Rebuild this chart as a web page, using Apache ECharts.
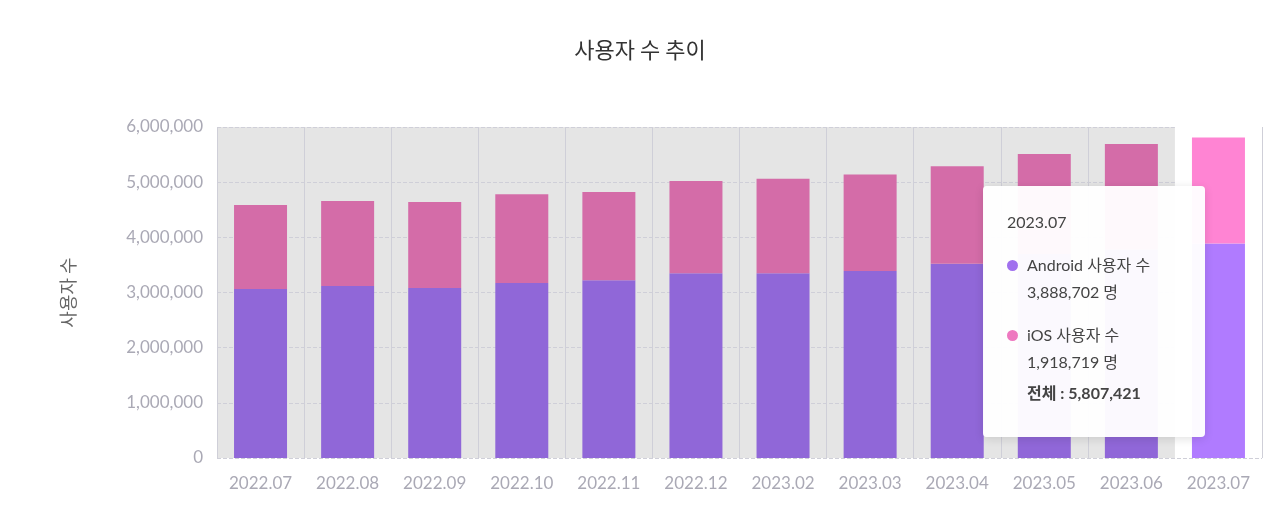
<!DOCTYPE html>
<html><head><meta charset="utf-8">
<script src="https://cdn.jsdelivr.net/npm/echarts@6/dist/echarts.min.js"></script>
<style>html,body{margin:0;padding:0;background:#fff}#c{width:1280px;height:506px}</style>
</head><body><div id="c"></div>
<script>
const categories = ['2022.07','2022.08','2022.09','2022.10','2022.11','2022.12','2023.02','2023.03','2023.04','2023.05','2023.06','2023.07'];
const android = [3063000,3120000,3080000,3170000,3220000,3350000,3350000,3390000,3520000,3700000,3780000,3888702];
const ios = [1523000,1540000,1560000,1610000,1600000,1670000,1710000,1750000,1770000,1810000,1910000,1918719];
const yTicks = [0,1000000,2000000,3000000,4000000,5000000,6000000];
const hi = categories.length - 1;
const fmt = v => v.toLocaleString('en-US');
const chart = echarts.init(document.getElementById('c'));
chart.setOption({
  textStyle:{fontFamily:'Lato, "Noto Sans CJK KR", sans-serif'},
  title:{text:'사용자 수 추이',left:'center',top:34,textStyle:{fontSize:22,fontWeight:'normal',color:'#333',fontFamily:'"Noto Sans CJK KR", sans-serif'}},
  grid:{left:217,right:18,top:127,bottom:48,show:true,backgroundColor:'#e5e5e5',borderWidth:0},
  tooltip:{trigger:'axis',triggerOn:'none',alwaysShowContent:true,axisPointer:{type:'none'},
    position:function(){return [983,186];},
    backgroundColor:'rgba(255,255,255,0.96)',borderWidth:0,padding:[22,24],
    extraCssText:'box-shadow:0 2px 10px rgba(0,0,0,0.12);border-radius:4px;width:174px;height:207px;',
    formatter:function(p){
      const i=p[0].dataIndex;
      const dot=c=>'<span style="display:inline-block;width:11px;height:11px;border-radius:50%;background:'+c+';margin-right:9px"></span>';
      return '<div style="font-family:Lato,\'Noto Sans CJK KR\';color:#444;font-size:16px;line-height:27px">'+
        '<div style="margin-bottom:16px">'+categories[i]+'</div>'+
        '<div>'+dot('#a070ee')+'Android 사용자 수</div><div style="padding-left:20px;margin-bottom:16px">'+fmt(android[i])+' 명</div>'+
        '<div>'+dot('#ee78c0')+'iOS 사용자 수</div><div style="padding-left:20px">'+fmt(ios[i])+' 명</div>'+
        '<div style="padding-left:20px;margin-top:4px;font-weight:bold">전체 : '+fmt(android[i]+ios[i])+'</div></div>';
    }},
  xAxis:{type:'category',data:categories,
    axisLine:{show:false},axisTick:{show:false},
    axisLabel:{color:'#aaa9b5',fontSize:17,margin:17},
    splitLine:{show:true,lineStyle:{color:'#cfcfd8',width:1}}},
  yAxis:{type:'value',min:0,max:6000000,interval:1000000,
    name:'사용자 수',nameLocation:'middle',nameGap:140,nameRotate:90,
    nameTextStyle:{fontSize:18,color:'#666',fontFamily:'"Noto Sans CJK KR", sans-serif'},
    axisLabel:{color:'#aaa9b5',fontSize:17,margin:14,formatter:v=>fmt(v)},
    splitLine:{lineStyle:{type:'dashed',color:'#cfcfd8'}}},
  series:[
    {name:'Android 사용자 수',type:'bar',stack:'a',barWidth:53,
      data:android.map((v,i)=>i===hi?{value:v,itemStyle:{color:'#a070ee'}}:v),
      itemStyle:{color:'#9067d8'},
      markArea:{silent:true,itemStyle:{color:'#ffffff'},data:[[{xAxis:categories[hi]},{xAxis:categories[hi]}]]},
      z:2},
    {name:'iOS 사용자 수',type:'bar',stack:'a',barWidth:53,
      data:ios.map((v,i)=>i===hi?{value:v,itemStyle:{color:'#ee78c0'}}:v),
      itemStyle:{color:'#d46ca8'},z:2}
  ]
});
setTimeout(()=>chart.dispatchAction({type:'showTip',seriesIndex:0,dataIndex:hi}),50);
</script></body></html>
